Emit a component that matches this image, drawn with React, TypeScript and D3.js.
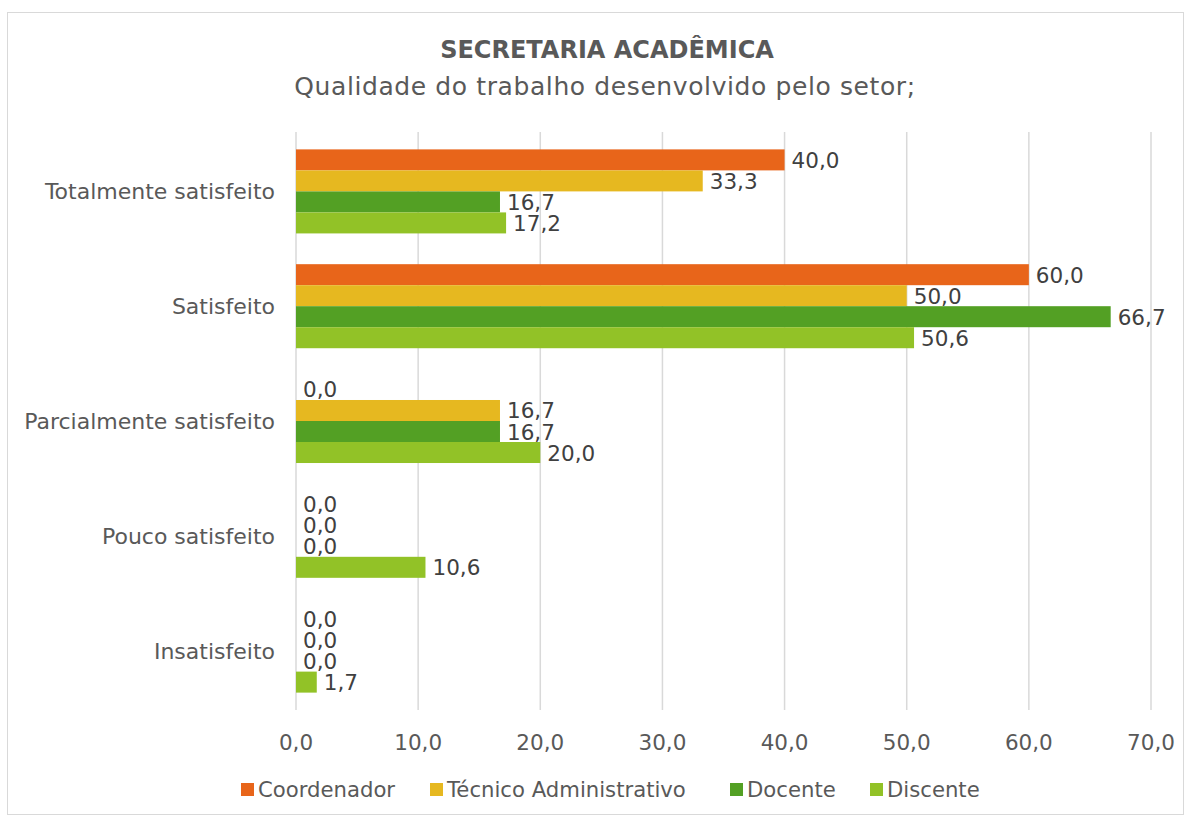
import React from 'react';
import * as d3 from 'd3';

const categories = ['Totalmente satisfeito', 'Satisfeito', 'Parcialmente satisfeito', 'Pouco satisfeito', 'Insatisfeito'];
const seriesNames = ['Coordenador', 'Técnico Administrativo', 'Docente', 'Discente'];
const seriesColors = ['#e8651a', '#e6b820', '#53a024', '#92c227'];
const coordenador = [40.0, 60.0, 0.0, 0.0, 0.0];
const tecnico = [33.3, 50.0, 16.7, 0.0, 0.0];
const docente = [16.7, 66.7, 16.7, 0.0, 0.0];
const discente = [17.2, 50.6, 20.0, 10.6, 1.7];
const xTicks = [0, 10, 20, 30, 40, 50, 60, 70];

const values = [coordenador, tecnico, docente, discente];
const fmt = (v: number) => v.toFixed(1).replace('.', ',');
const FONT = '"DejaVu Sans", sans-serif';

export default function App() {
  const width = 1190;
  const height = 820;
  const x = d3.scaleLinear().domain([0, 70]).range([296, 1151]);
  const y = d3.scaleBand().domain(categories).range([134, 708]).paddingInner(0.268).paddingOuter(0.134);
  const inner = d3.scaleBand().domain(seriesNames).range([0, y.bandwidth()]);

  // legend swatch positions
  const legendX = [241, 430, 730, 870];

  return (
    <svg width={width} height={height} style={{ position: 'absolute', left: 0, top: 0 }}>
      <rect x={0} y={0} width={width} height={height} fill="#fff" />
      <rect x={7.5} y={12.5} width={1176} height={802} fill="#fff" stroke="#d9d9d9" strokeWidth={1} />
      <text x={607} y={58} textAnchor="middle" fontFamily={FONT} fontSize={24} fontWeight="bold" fill="#595959">SECRETARIA ACADÊMICA</text>
      <text x={605} y={95} textAnchor="middle" fontFamily={FONT} fontSize={25} letterSpacing={0.6} fill="#595959">Qualidade do trabalho desenvolvido pelo setor;</text>

      {xTicks.map(t => (
        <line key={t} x1={x(t)} x2={x(t)} y1={132} y2={710} stroke="#d9d9d9" strokeWidth={1.5} />
      ))}
      {xTicks.map(t => (
        <text key={'t' + t} x={x(t)} y={750} textAnchor="middle" fontFamily={FONT} fontSize={21.5} fill="#595959">{fmt(t)}</text>
      ))}

      {categories.map((c, ci) => (
        <g key={c}>
          <text x={275} y={(y(c) as number) + y.bandwidth() / 2 + 8} textAnchor="end" fontFamily={FONT} fontSize={22} fill="#595959">{c}</text>
          {seriesNames.map((s, si) => {
            const v = values[si][ci];
            const by = (y(c) as number) + (inner(s) as number);
            return (
              <g key={s}>
                <rect x={x(0)} y={by} width={x(v) - x(0)} height={inner.bandwidth()} fill={seriesColors[si]} />
                <text x={x(v) + 7} y={by + inner.bandwidth() / 2 + 8} fontFamily={FONT} fontSize={21.5} fill="#404040">{fmt(v)}</text>
              </g>
            );
          })}
        </g>
      ))}

      {seriesNames.map((s, si) => (
        <g key={'l' + s}>
          <rect x={legendX[si]} y={783} width={13} height={13} fill={seriesColors[si]} />
          <text x={legendX[si] + 17} y={797} fontFamily={FONT} fontSize={21.2} fill="#595959">{s}</text>
        </g>
      ))}
    </svg>
  );
}
